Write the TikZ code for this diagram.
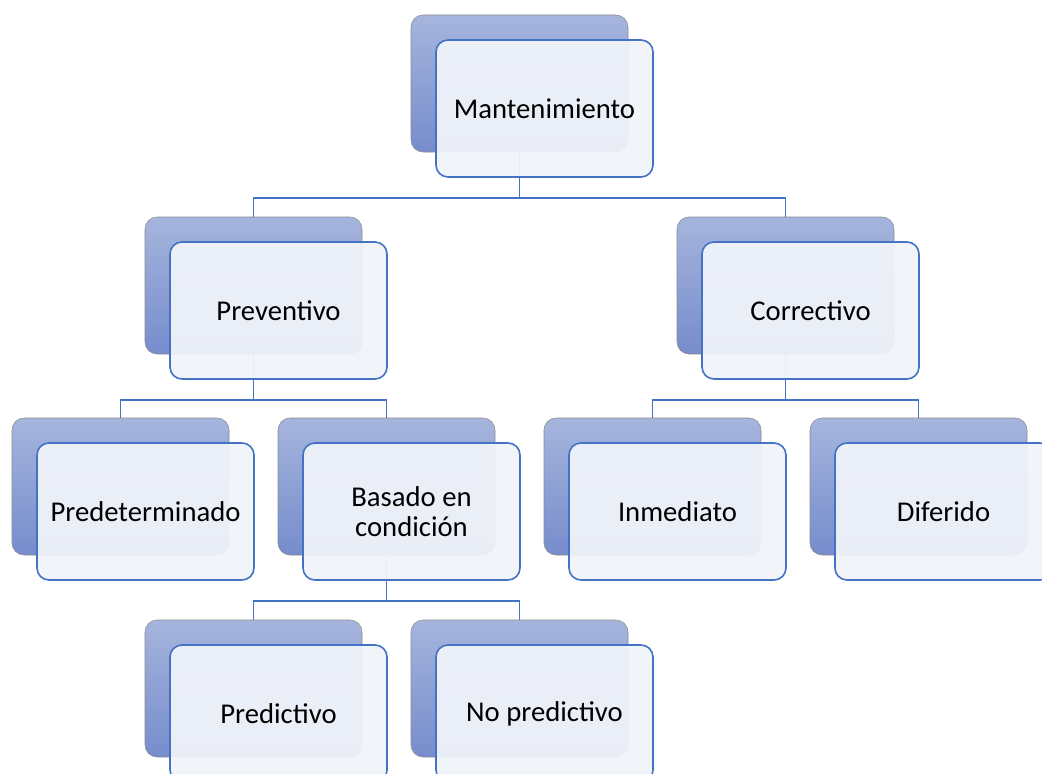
\documentclass[tikz,border=0pt]{standalone}
\usepackage{fontspec}
\setmainfont{Carlito}
\usetikzlibrary{positioning,calc}
\pgfdeclarelayer{background}
\pgfsetlayers{background,main}
\definecolor{linkblue}{RGB}{68,114,196}
\definecolor{backtop}{RGB}{166,181,221}
\definecolor{backbot}{RGB}{118,140,204}
\definecolor{frontfill}{RGB}{240,243,249}

\begin{document}
\begin{tikzpicture}[x=0.75pt,y=-0.75pt,
backbox/.style={
rectangle,rounded corners=9pt,minimum width=162.75pt,minimum height=102.75pt, % shadow card
draw=black!45,thin,
top color=backtop,bottom color=backbot},
frontbox/.style={
rectangle,rounded corners=9pt,minimum width=162.75pt,minimum height=102.75pt,
draw=linkblue,line width=1.2pt,fill=frontfill,fill opacity=0.95,text opacity=1,
align=center,font=\fontsize{21.5}{23}\selectfont},
link/.style={draw=linkblue,line width=1.3pt}]

    \useasboundingbox (0,0) rectangle (1042,774);
    \clip (0,0) rectangle (1042,774);

    \node[backbox] at (519.5,83.5) (mantB) {};
    \node[frontbox] at ([shift={(25,25)}]mantB.center) (mant) {Mantenimiento};

    \node[backbox] at (253.5,285.5) (prevB) {};
    \node[frontbox] at ([shift={(25,25)}]prevB.center) (prev) {Preventivo};
    \node[backbox] at (785.5,285.5) (corrB) {};
    \node[frontbox] at ([shift={(25,25)}]corrB.center) (corr) {Correctivo};

    \node[backbox] at (120.5,486.5) (predB) {};
    \node[frontbox] at ([shift={(25,25)}]predB.center) (pred) {Predeterminado};
    \node[backbox] at (386.5,486.5) (basB) {};
    \node[frontbox] at ([shift={(25,25)}]basB.center) (bas) {Basado en\\condición};
    \node[backbox] at (652.5,486.5) (inmB) {};
    \node[frontbox] at ([shift={(25,25)}]inmB.center) (inm) {Inmediato};
    \node[backbox] at (918.5,486.5) (difB) {};
    \node[frontbox] at ([shift={(25,25)}]difB.center) (dif) {Diferido};

    \node[backbox] at (253.5,688.5) (pdvB) {};
    \node[frontbox] at ([shift={(25,25)}]pdvB.center) (pdv) {Predictivo};
    \node[backbox] at (519.5,688.5) (npdB) {};
    \node[frontbox] at ([shift={(25,25)}]npdB.center) (npd) {No predictivo};

    \begin{pgfonlayer}{background}
    \coordinate (mantJ) at ($(mantB.south |- mant.south)+(0,20)$);
    \coordinate (prevJ) at ($(prevB.south |- prev.south)+(0,20)$);
    \coordinate (corrJ) at ($(corrB.south |- corr.south)+(0,20)$);
    \coordinate (basJ) at ($(basB.south |- bas.south)+(0,20)$);
    \draw[link] (mantB.south) -- (mantJ) -| (prevB.north);
    \draw[link] (mantJ) -| (corrB.north);
    \draw[link] (prevB.south) -- (prevJ) -| (predB.north);
    \draw[link] (prevJ) -| (basB.north);
    \draw[link] (corrB.south) -- (corrJ) -| (inmB.north);
    \draw[link] (corrJ) -| (difB.north);
    \draw[link] (basB.south) -- (basJ) -| (pdvB.north);
    \draw[link] (basJ) -| (npdB.north);
    \end{pgfonlayer}

\end{tikzpicture}
\end{document}
